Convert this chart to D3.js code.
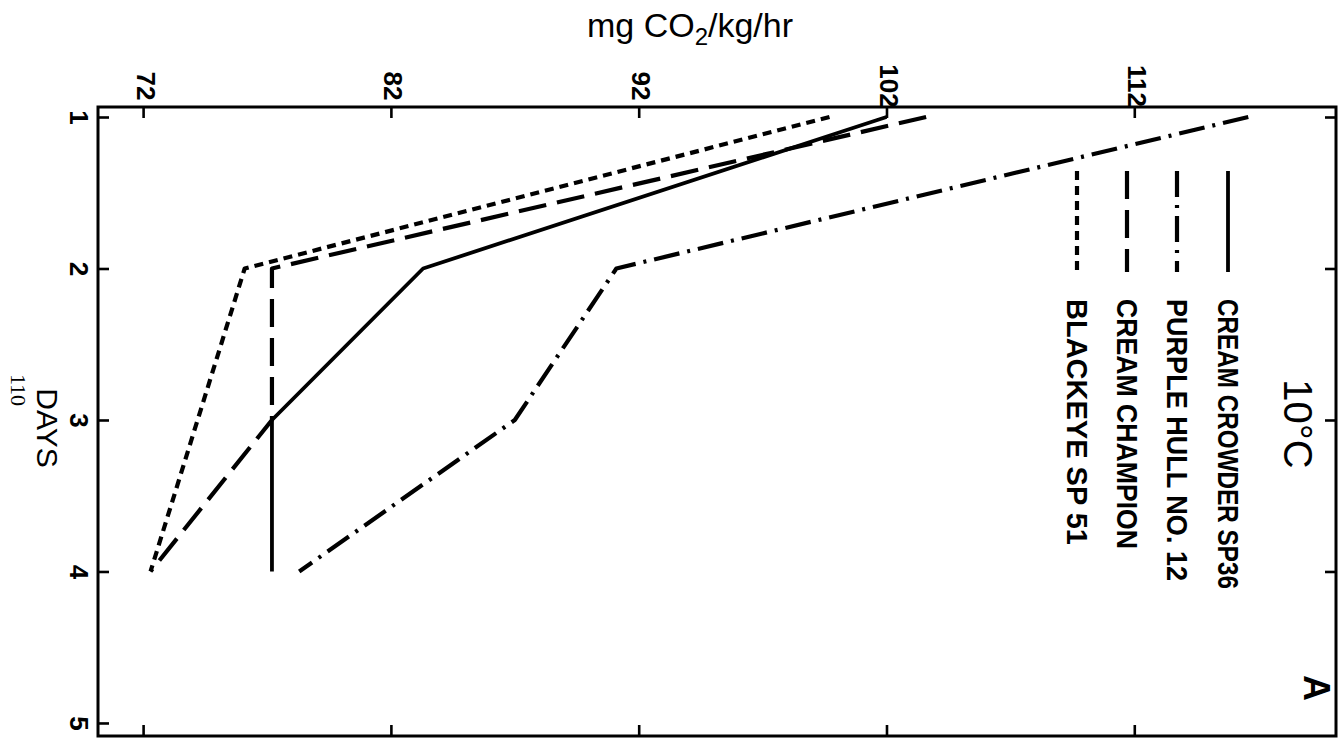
<!DOCTYPE html>
<html>
<head>
<meta charset="utf-8">
<script src="https://cdn.jsdelivr.net/npm/d3@7"></script>
<style>
  body { margin: 0; background: #fff; }
  svg { display: block; }
</style>
</head>
<body>
<script>
// values (respiration at 10 C)
const days = [1, 2, 3, 4];
const creamCrowder = [102.0, 83.3, 77.2, 77.2];
const purpleHull = [116.6, 91.1, 87.0, 78.3];
const creamChampion = [103.6, 77.2, 77.2, 72.3];
const blackeye = [99.7, 76.1, 74.2, 72.3];
const seriesNames = ["CREAM CROWDER SP36", "PURPLE HULL NO. 12", "CREAM CHAMPION", "BLACKEYE SP 51"];
const valueTicks = [72, 82, 92, 102, 112];
const dayTicks = [1, 2, 3, 4, 5];

const W = 1343, H = 738;
const box = { left: 98, right: 1336, top: 107, bottom: 736 };

const svg = d3.select("body").append("svg")
  .attr("width", W)
  .attr("height", H);

// the page is printed sideways: values run left-right, days run top-down
const x = d3.scaleLinear().domain([70.18, 120.14]).range([box.left, box.right]);
const y = d3.scaleLinear().domain([0.934, 5.086]).range([box.top, box.bottom]);

const tickFont = "'Liberation Sans', Arial, sans-serif";

function styleAxis(g) {
  g.select(".domain").remove();
  g.selectAll(".tick line").attr("stroke", "#000").attr("stroke-width", 2.6);
  g.attr("font-family", tickFont).attr("font-size", 26).attr("font-weight", "bold");
}

// top axis (mg CO2/kg/hr)
svg.append("g")
  .attr("transform", "translate(0," + box.top + ")")
  .call(d3.axisTop(x).tickValues(valueTicks).tickSizeInner(-11).tickSizeOuter(0).tickFormat(d3.format("d")))
  .call(styleAxis)
  .selectAll("text")
  .attr("x", 0).attr("y", 0).attr("dy", null)
  .attr("text-anchor", "middle")
  .attr("dominant-baseline", "central")
  .attr("transform", "translate(2,-21) rotate(90)");

// left axis (days)
svg.append("g")
  .attr("transform", "translate(" + box.left + ",0)")
  .call(d3.axisLeft(y).tickValues(dayTicks).tickSizeInner(-11).tickSizeOuter(0).tickFormat(d3.format("d")))
  .call(styleAxis)
  .selectAll("text")
  .attr("x", 0).attr("y", 0).attr("dy", null)
  .attr("text-anchor", "middle")
  .attr("dominant-baseline", "central")
  .attr("transform", "translate(-19,0) rotate(90)");

// mirrored ticks on bottom and right
svg.append("g")
  .attr("transform", "translate(0," + box.bottom + ")")
  .call(d3.axisBottom(x).tickValues(valueTicks).tickSizeInner(-11).tickSizeOuter(0).tickFormat(""))
  .call(styleAxis);

svg.append("g")
  .attr("transform", "translate(" + box.right + ",0)")
  .call(d3.axisRight(y).tickValues(dayTicks.slice(0, 4)).tickSizeInner(-11).tickSizeOuter(0).tickFormat(""))
  .call(styleAxis);

// frame
svg.append("rect")
  .attr("x", box.left).attr("y", box.top)
  .attr("width", box.right - box.left)
  .attr("height", box.bottom - box.top)
  .attr("fill", "none")
  .attr("stroke", "#000")
  .attr("stroke-width", 3);

// series lines
const dashes = [null, "26,8,3,8", "28,11", "9,6"];
const widths = [3.8, 4.2, 4.2, 4.2];
const allSeries = [creamCrowder, purpleHull, creamChampion, blackeye];

const line = d3.line()
  .x(d => x(d[1]))
  .y(d => y(d[0]));

allSeries.forEach(function (vals, i) {
  svg.append("path")
    .datum(days.map((d, j) => [d, vals[j]]))
    .attr("d", line)
    .attr("fill", "none")
    .attr("stroke", "#000")
    .attr("stroke-width", widths[i])
    .attr("stroke-dasharray", dashes[i])
    .attr("stroke-linejoin", "round");
});

// legend
const legX = [1228, 1177, 1127, 1077];
const legLen = [290, 282, 250, 246];

seriesNames.forEach(function (name, i) {
  svg.append("line")
    .attr("x1", legX[i]).attr("x2", legX[i])
    .attr("y1", 171).attr("y2", 272)
    .attr("stroke", "#000")
    .attr("stroke-width", widths[i])
    .attr("stroke-dasharray", dashes[i]);

  svg.append("text")
    .attr("transform", "translate(" + legX[i] + ",299) rotate(90)")
    .attr("dominant-baseline", "central")
    .attr("font-family", tickFont)
    .attr("font-weight", "bold")
    .attr("font-size", 30)
    .attr("textLength", legLen[i])
    .attr("lengthAdjust", "spacingAndGlyphs")
    .text(name);
});

// title and panel letter
svg.append("text")
  .attr("transform", "translate(1298,424) rotate(90)")
  .attr("text-anchor", "middle")
  .attr("dominant-baseline", "central")
  .attr("font-family", tickFont)
  .attr("font-size", 40)
  .text("10°C");

svg.append("text")
  .attr("transform", "translate(1316,688) rotate(90)")
  .attr("text-anchor", "middle")
  .attr("dominant-baseline", "central")
  .attr("font-family", tickFont)
  .attr("font-weight", "bold")
  .attr("font-size", 36)
  .text("A");

// axis titles
const yTitle = svg.append("text")
  .attr("x", 690).attr("y", 37)
  .attr("text-anchor", "middle")
  .attr("font-family", tickFont)
  .attr("font-size", 34);
yTitle.append("tspan").text("mg CO");
yTitle.append("tspan").attr("font-size", 24).attr("dy", 8).text("2");
yTitle.append("tspan").attr("dy", -8).text("/kg/hr");

svg.append("text")
  .attr("transform", "translate(47,428) rotate(90)")
  .attr("text-anchor", "middle")
  .attr("dominant-baseline", "central")
  .attr("font-family", tickFont)
  .attr("font-size", 30)
  .text("DAYS");

svg.append("text")
  .attr("transform", "translate(18,390) rotate(90)")
  .attr("text-anchor", "middle")
  .attr("dominant-baseline", "central")
  .attr("font-family", "'Liberation Serif', serif")
  .attr("font-size", 22)
  .text("110");
</script>
</body>
</html>
